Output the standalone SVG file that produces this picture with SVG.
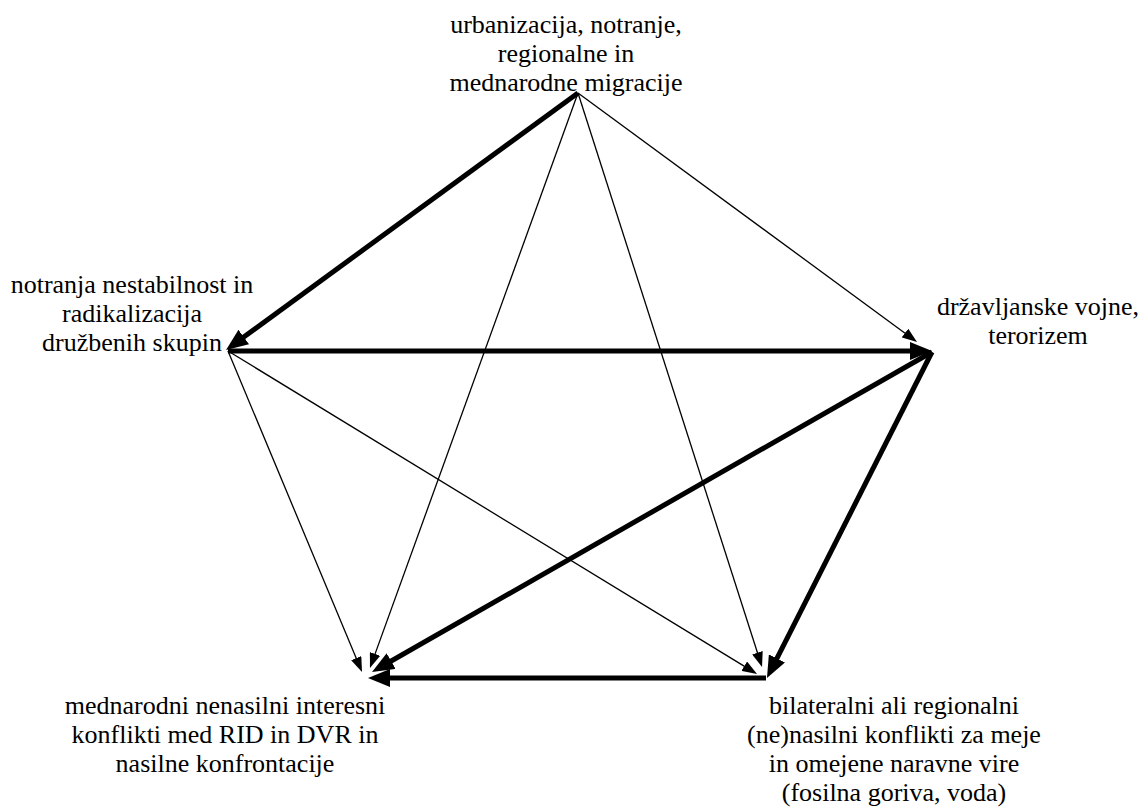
<svg xmlns="http://www.w3.org/2000/svg" width="1141" height="810" viewBox="0 0 1141 810">
<style>
text{font-family:"Liberation Serif","DejaVu Serif",serif;font-size:26px;fill:#000;text-anchor:middle}
.thin{stroke:#000;stroke-width:1.3;fill:none;marker-end:url(#ah)}
.thick{stroke:#000;stroke-width:5;fill:none;marker-end:url(#AH)}
</style>
<defs>
<marker id="ah" markerUnits="userSpaceOnUse" markerWidth="15" markerHeight="11" refX="9" refY="5.5" orient="auto" viewBox="0 0 15 11"><path d="M0,0 L15,5.5 L0,11 Z" fill="#000"/></marker>
<marker id="AH" markerUnits="userSpaceOnUse" markerWidth="22" markerHeight="18" refX="12" refY="9" orient="auto" viewBox="0 0 22 18"><path d="M0,0 L22,9 L0,18 Z" fill="#000"/></marker>
</defs>
<rect width="1141" height="810" fill="#fff"/>
<g id="connectors">
<line class="thick" x1="578" y1="93" x2="234.1" y2="344.1"/>
<line class="thin" x1="578" y1="93" x2="912.2" y2="338.4"/>
<line class="thin" x1="578" y1="93" x2="372.0" y2="662.4"/>
<line class="thin" x1="578" y1="93" x2="760.2" y2="661.3"/>
<line class="thick" x1="228" y1="351" x2="922" y2="351"/>
<line class="thin" x1="228" y1="351" x2="359.7" y2="666.5"/>
<line class="thin" x1="228" y1="351" x2="751.9" y2="670.9"/>
<line class="thick" x1="932" y1="352" x2="380.7" y2="667.0"/>
<line class="thick" x1="932" y1="352" x2="771.5" y2="669.1"/>
<line class="thick" x1="766" y1="678" x2="378" y2="678"/>
</g>
<g id="node-top" font-family="Liberation Serif, serif">
<text x="566" y="33">urbanizacija, notranje,</text>
<text x="566" y="62">regionalne in</text>
<text x="566" y="91">mednarodne migracije</text>
</g>
<g id="node-left" font-family="Liberation Serif, serif">
<text x="132" y="293">notranja nestabilnost in</text>
<text x="132" y="322">radikalizacija</text>
<text x="132" y="351">družbenih skupin</text>
</g>
<g id="node-right" font-family="Liberation Serif, serif">
<text x="1038" y="315">državljanske vojne,</text>
<text x="1038" y="344">terorizem</text>
</g>
<g id="node-bottom-left" font-family="Liberation Serif, serif">
<text x="225" y="714">mednarodni nenasilni interesni</text>
<text x="225" y="743">konflikti med RID in DVR in</text>
<text x="225" y="772">nasilne konfrontacije</text>
</g>
<g id="node-bottom-right" font-family="Liberation Serif, serif">
<text x="894" y="714">bilateralni ali regionalni</text>
<text x="894" y="743">(ne)nasilni konflikti za meje</text>
<text x="894" y="772">in omejene naravne vire</text>
<text x="894" y="801">(fosilna goriva, voda)</text>
</g>
</svg>
